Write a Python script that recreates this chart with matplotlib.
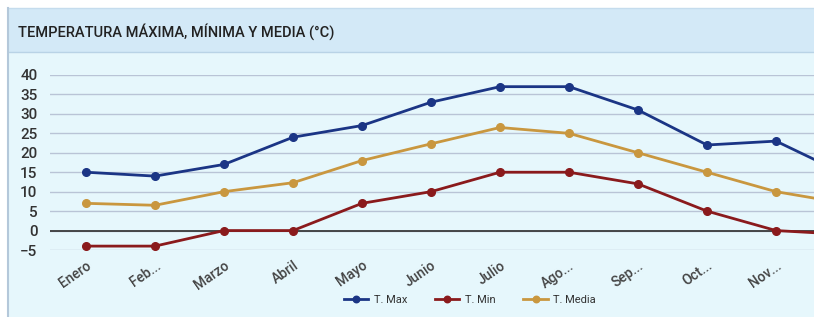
import matplotlib.pyplot as plt
from matplotlib.patches import Rectangle
from matplotlib.lines import Line2D

plt.rcParams['font.family'] = ['Roboto', 'DejaVu Sans']

# monthly temperatures (°C)
months = ['Enero', 'Feb...', 'Marzo', 'Abril', 'Mayo', 'Junio', 'Julio',
          'Ago...', 'Sep...', 'Oct...', 'Nov...', 'Dic...']
t_max = [15, 14, 17, 24, 27, 33, 37, 37, 31, 22, 23, 14.5]
t_min = [-4, -4, 0, 0, 7, 10, 15, 15, 12, 5, 0, -1]
t_media = [7, 6.5, 10, 12.3, 18, 22.3, 26.5, 25, 20, 15, 10, 7]
yticks = [-5, 0, 5, 10, 15, 20, 25, 30, 35, 40]

c_max = '#1b3585'
c_min = '#8a1a1c'
c_media = '#c9973f'

W, H = 814, 317
fig = plt.figure(figsize=(W / 100, H / 100), dpi=100)
fig.patch.set_facecolor('white')

# panel background and title bar
fig.patches.append(Rectangle((8 / W, 0), 1, 1 - 52 / H, transform=fig.transFigure,
                             facecolor='#e6f7fc', edgecolor='none', zorder=-2))
fig.patches.append(Rectangle((8 / W, 1 - 52 / H), 1, 44 / H, transform=fig.transFigure,
                             facecolor='#d3e9f7', edgecolor='none', zorder=-2))
fig.add_artist(Line2D([8 / W, 1], [1 - 52 / H] * 2, color='#b9d3e6', lw=1, zorder=-1))
fig.add_artist(Line2D([8 / W, 1], [1 - 8 / H] * 2, color='#c5dced', lw=1, zorder=-1))
fig.add_artist(Line2D([8 / W] * 2, [0, 1 - 8 / H], color='#b4c8da', lw=1.5, zorder=-1))
fig.text(18 / W, 1 - 32 / H, 'TEMPERATURA MÁXIMA, MÍNIMA Y MEDIA (°C)',
         fontsize=10.5, color='#222222', va='center', ha='left', weight='medium')

ax = fig.add_axes([50 / W, 1 - 250 / H, 764 / W, 175 / H])
ax.set_zorder(5)
ax.set_facecolor('none')
x = list(range(len(months)))

for vals, col, lab in [(t_max, c_max, 'T. Max'), (t_min, c_min, 'T. Min'),
                       (t_media, c_media, 'T. Media')]:
    ax.plot(x, vals, color=col, lw=2, marker='o', ms=5.5, label=lab,
            clip_on=False, zorder=3)

ax.set_yticks(yticks)
ax.yaxis.grid(True, color='#b9c4d6', lw=1)
ax.axhline(0, color='#3a3a3a', lw=1.3, zorder=2)
ax.set_axisbelow(True)
for s in ax.spines.values():
    s.set_visible(False)
ax.tick_params(axis='both', length=0, colors='#333333')
ax.tick_params(axis='y', pad=9, labelsize=11)
for t in ax.get_yticklabels():
    t.set_fontweight('medium')
ax.set_xticks(x)
ax.set_xticklabels(months, rotation=35, ha='right', rotation_mode='anchor',
                   fontsize=10, color='#444444', fontweight='medium')
ax.tick_params(axis='x', pad=6)
ax.set_xlim(-36 / 69, 728 / 69)
ax.set_ylim(-5, 40)

fig.legend(loc='center', bbox_to_anchor=(470 / W, 1 - 300 / H), ncol=3,
           frameon=False, fontsize=8, handlelength=2.2, columnspacing=2.5,
           handletextpad=0.5, labelcolor='#333333', markerscale=0.85)

fig.savefig('out.png', dpi=100)
